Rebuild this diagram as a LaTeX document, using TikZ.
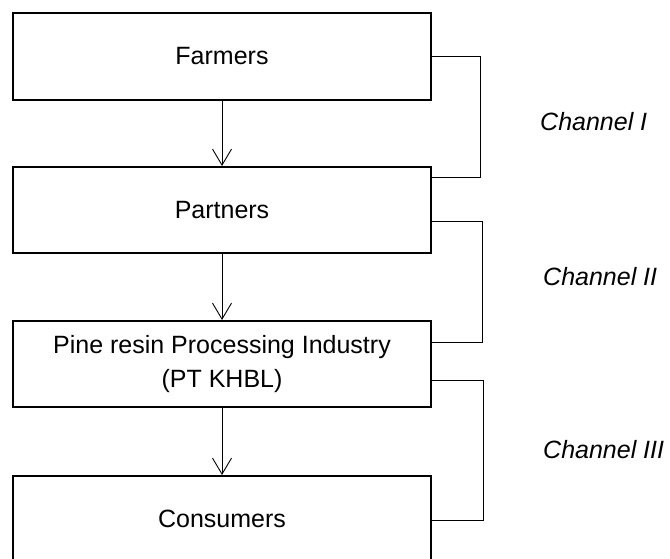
\documentclass[tikz,border=0pt]{standalone}
\usepackage{fontspec}
\setmainfont{Liberation Sans}
\usetikzlibrary{arrows.meta}
\begin{document}
\begin{tikzpicture}[x=1pt,y=-1pt,
  box/.style={draw=black, line width=2pt, minimum width=418pt, inner sep=0pt,
    align=center, font=\fontsize{25}{34}\selectfont},
  flow/.style={draw=black, line width=0.9pt, -{Straight Barb[length=16pt,width=19pt,line width=0.9pt]}},
  conn/.style={draw=black, line width=0.9pt},
  chan/.style={anchor=west, inner sep=0pt, font=\fontsize{25}{30}\selectfont\itshape}]
\useasboundingbox (0,0) rectangle (670,559);
\node[box, minimum height=87pt] (farm) at (222,56.5) {Farmers};
\node[box, minimum height=86pt] (part) at (222,210) {Partners};
\node[box, minimum height=86pt] (pine) at (222,364) {Pine resin Processing Industry\\(PT KHBL)};
\node[box, minimum height=86pt] (cons) at (222,519) {Consumers};
\draw[flow] (farm) -- (part);
\draw[flow] (part) -- (pine);
\draw[flow] (pine) -- (cons);
\draw[conn] (farm.east) -- ++(48,0) |- ([yshift=-11pt]part.north east);
\draw[conn] ([yshift=-11pt]part.east) -- ++(50,0) |- ([yshift=-22pt]pine.north east);
\draw[conn] ([yshift=-16pt]pine.east) -- ++(51,0) |- ([yshift=-1.5pt]cons.east);
\node[chan] (c1) at (540,122) {Channel I};
\node[chan] (c2) at (543,277) {Channel II};
\node[chan] (c3) at (543,450) {Channel III};
\end{tikzpicture}
\end{document}
